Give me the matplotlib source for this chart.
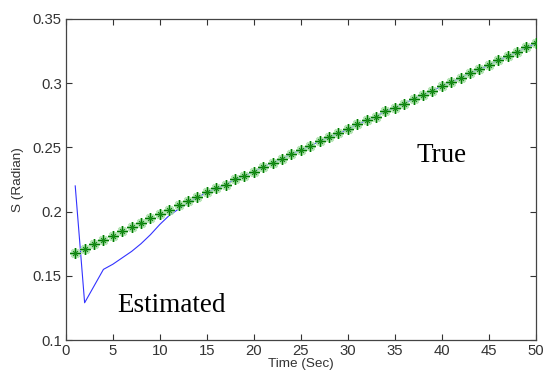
import numpy as np
import matplotlib
matplotlib.use('Agg')
import matplotlib.pyplot as plt

# time steps (sec)
time = list(range(1, 51))

# true value of S (radian)
s_true = [0.168, 0.171, 0.175, 0.178, 0.181, 0.185, 0.188, 0.191, 0.195, 0.198,
          0.201, 0.205, 0.208, 0.211, 0.215, 0.218, 0.221, 0.225, 0.228, 0.231,
          0.235, 0.238, 0.241, 0.245, 0.248, 0.251, 0.255, 0.258, 0.261, 0.264,
          0.268, 0.271, 0.274, 0.278, 0.281, 0.284, 0.288, 0.291, 0.294, 0.298,
          0.301, 0.304, 0.308, 0.311, 0.314, 0.318, 0.321, 0.324, 0.328, 0.331]

# estimated S (radian)
s_est = [0.220, 0.129, 0.142, 0.155, 0.159, 0.164, 0.169, 0.175, 0.182, 0.190,
         0.197, 0.202, 0.207, 0.211, 0.215, 0.218, 0.221, 0.225, 0.228, 0.231,
         0.235, 0.238, 0.241, 0.245, 0.248, 0.251, 0.255, 0.258, 0.261, 0.264,
         0.268, 0.271, 0.274, 0.278, 0.281, 0.284, 0.288, 0.291, 0.294, 0.298,
         0.301, 0.304, 0.308, 0.311, 0.314, 0.318, 0.321, 0.324, 0.328, 0.331]

xticks = [0, 5, 10, 15, 20, 25, 30, 35, 40, 45, 50]
yticks = [0.1, 0.15, 0.2, 0.25, 0.3, 0.35]

plt.rcParams['font.family'] = ['Liberation Sans', 'DejaVu Sans']

fig = plt.figure(figsize=(5.44, 3.72), dpi=100)
ax = fig.add_axes([0.121, 0.086, 0.864, 0.863])

ax.plot(time, s_est, color='#0000ff', linewidth=0.8, alpha=0.8, zorder=2)
# soft halo under the asterisks
ax.plot(time, s_true, linestyle='none', marker=(8, 2, 0), markersize=7.5,
        markeredgewidth=2.0, markeredgecolor='#a8e0a8', alpha=0.8, zorder=3)
ax.plot(time, s_true, linestyle='none', marker=(4, 2, 0), markersize=6.5,
        markeredgewidth=0.9, markeredgecolor='#007a00', zorder=4)
ax.plot(time, s_true, linestyle='none', marker=(4, 2, 45), markersize=5,
        markeredgewidth=0.6, markeredgecolor='#1a8f1a', zorder=4)

ax.text(37.3, 0.244, 'True', fontsize=19.5, family='Liberation Serif', va='center')
ax.text(5.5, 0.127, 'Estimated', fontsize=19.5, family='Liberation Serif', va='center')

ax.set_xlim(0, 50)
ax.set_ylim(0.1, 0.35)
ax.set_xticks(xticks)
ax.set_yticks(yticks)
ax.set_xticklabels([str(t) for t in xticks])
ax.set_yticklabels(['0.1', '0.15', '0.2', '0.25', '0.3', '0.35'])
ax.tick_params(direction='in', top=True, right=True, length=4, width=0.8,
               labelsize=10.7, colors='#333333', pad=3)
for sp in ax.spines.values():
    sp.set_color('#444444')
    sp.set_linewidth(0.9)

ax.set_xlabel('Time (Sec)', fontsize=9.7, color='#333333', labelpad=0)
ax.set_ylabel('S (Radian)', fontsize=9.7, color='#333333', labelpad=6)

fig.savefig('out.png', dpi=100)
